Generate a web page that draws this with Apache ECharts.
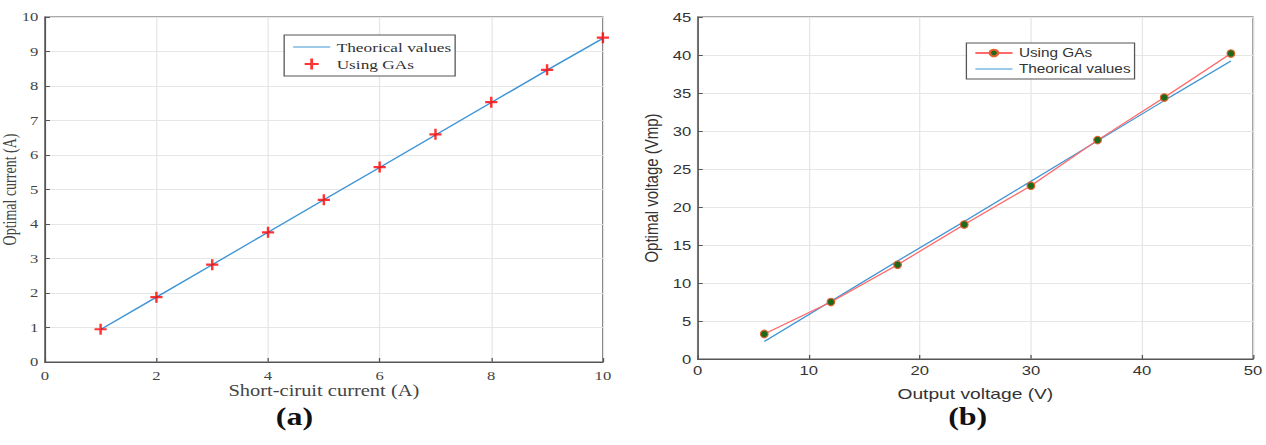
<!DOCTYPE html>
<html><head><meta charset="utf-8">
<script src="https://cdn.jsdelivr.net/npm/echarts@6/dist/echarts.min.js"></script>
<style>html,body{margin:0;padding:0;background:#fff;overflow:hidden;width:1266px;height:445px}
#c{width:989px;height:445px;transform:scaleX(1.28);transform-origin:0 0}</style>
</head><body><div id="c"></div>
<script>
// Chart (a)
const xA = [1,2,3,4,5,6,7,8,9,10];
const gaA = [0.95,1.88,2.82,3.76,4.70,5.65,6.60,7.53,8.47,9.40];
const thA = [0.94,1.88,2.82,3.76,4.70,5.64,6.58,7.52,8.46,9.38];
// Chart (b)
const xB = [6,12,18,24,30,36,42,48];
const gaB = [3.3,7.5,12.4,17.7,22.8,28.8,34.4,40.2];
const thB = [2.3,7.6,12.9,18.1,23.4,28.7,34.0,39.2];

const pair = (xs, ys) => xs.map((x,i)=>[x, ys[i]]);
const names = {thA:'Theorical values', gaA:'Using GAs', gaB:'Using GAs', thB:'Theorical values'};
const serif = '"Liberation Serif","DejaVu Serif",serif';
const sans = '"Liberation Sans","DejaVu Sans",sans-serif';
const blue = '#3f95d6';
const plus = 'path://M4,0h2v4h4v2h-4v4h-2v-4h-4v-2h4z';
const lineIcon = 'path://M0,0H29V1.2H0Z';

function axisCommon(font, color, size, nameSize, margin){
  return {
    axisLine:{show:true, lineStyle:{color:'#555', width:1}},
    axisTick:{show:true, inside:true, length:4, lineStyle:{color:'#555'}},
    splitLine:{show:true, lineStyle:{color:'#e6e6e6', width:1}},
    axisLabel:{fontFamily:font, color:color, fontSize:size, margin:margin},
    nameTextStyle:{fontFamily:font, color:color, fontSize:nameSize, lineHeight:nameSize},
    nameLocation:'middle',
    nameMoveOverlap:false
  };
}

const chart = echarts.init(document.getElementById('c'), null, {renderer:'svg'});
chart.setOption({
  animation:false,
  backgroundColor:'#fff',
  grid:[
    {left:35, right:518, top:17, bottom:83, show:true, borderColor:'#555', borderWidth:1, containLabel:false, outerBoundsMode:'none'},
    {left:545, right:10, top:17, bottom:86, show:true, borderColor:'#555', borderWidth:1, containLabel:false, outerBoundsMode:'none'}
  ],
  xAxis:[
    Object.assign(axisCommon(serif,'#444',13,16,7), {gridIndex:0, type:'value', min:0, max:10, interval:2, name:'Short-ciruit current (A)', nameGap:21}),
    Object.assign(axisCommon(sans,'#333',13,15,5), {gridIndex:1, type:'value', min:0, max:50, interval:10, name:'Output voltage (V)', nameGap:27})
  ],
  yAxis:[
    Object.assign(axisCommon(serif,'#444',13,14,5), {gridIndex:0, type:'value', min:0, max:10, interval:1, name:'Optimal current (A)', nameGap:20}),
    Object.assign(axisCommon(sans,'#333',13,15,5), {gridIndex:1, type:'value', min:0, max:45, interval:5, name:'Optimal voltage (Vmp)', nameGap:29})
  ],
  legend:[
    {data:[{name:'thA', icon:lineIcon},'gaA'], orient:'vertical', left:222, top:35, padding:[5,3,5,7], itemGap:3,
     itemWidth:29, itemHeight:11, borderColor:'#555', borderWidth:1, backgroundColor:'#fff',
     formatter:n=>names[n], textStyle:{fontFamily:serif, fontSize:13.5, color:'#333'}, selectedMode:false},
    {data:['gaB',{name:'thB', icon:lineIcon}], orient:'vertical', left:755, top:43, padding:[4,3,4,6], itemGap:4,
     itemWidth:29, itemHeight:8, borderColor:'#555', borderWidth:1, backgroundColor:'#fff',
     formatter:n=>names[n], textStyle:{fontFamily:sans, fontSize:12, color:'#333'}, selectedMode:false}
  ],
  series:[
    {name:'thA', type:'line', xAxisIndex:0, yAxisIndex:0, data:pair(xA,thA), showSymbol:false, symbol:'none',
     lineStyle:{color:blue, width:1.3}, itemStyle:{color:blue}, z:2},
    {name:'gaA', type:'scatter', xAxisIndex:0, yAxisIndex:0, data:pair(xA,gaA), symbol:plus, symbolSize:[9.5,11],
     itemStyle:{color:'#ff0000'}, z:3},
    {name:'gaB', type:'line', xAxisIndex:1, yAxisIndex:1, data:pair(xB,gaB), symbol:'circle', symbolSize:[6,7.5], showSymbol:true,
     lineStyle:{color:'#ff6a6a', width:1.2}, itemStyle:{color:'#1d6a1d', borderColor:'#e0602a', borderWidth:1}, z:3},
    {name:'thB', type:'line', xAxisIndex:1, yAxisIndex:1, data:pair(xB,thB), symbol:'none', showSymbol:false,
     lineStyle:{color:blue, width:1.2}, itemStyle:{color:blue}, z:2}
  ],
  graphic:[
    {type:'text', x:230, y:416, style:{text:'(a)', font:'bold 25px '+serif, fill:'#111', textAlign:'center', textVerticalAlign:'middle'}},
    {type:'text', x:756, y:416, style:{text:'(b)', font:'bold 25px '+serif, fill:'#111', textAlign:'center', textVerticalAlign:'middle'}}
  ]
});
</script></body></html>
